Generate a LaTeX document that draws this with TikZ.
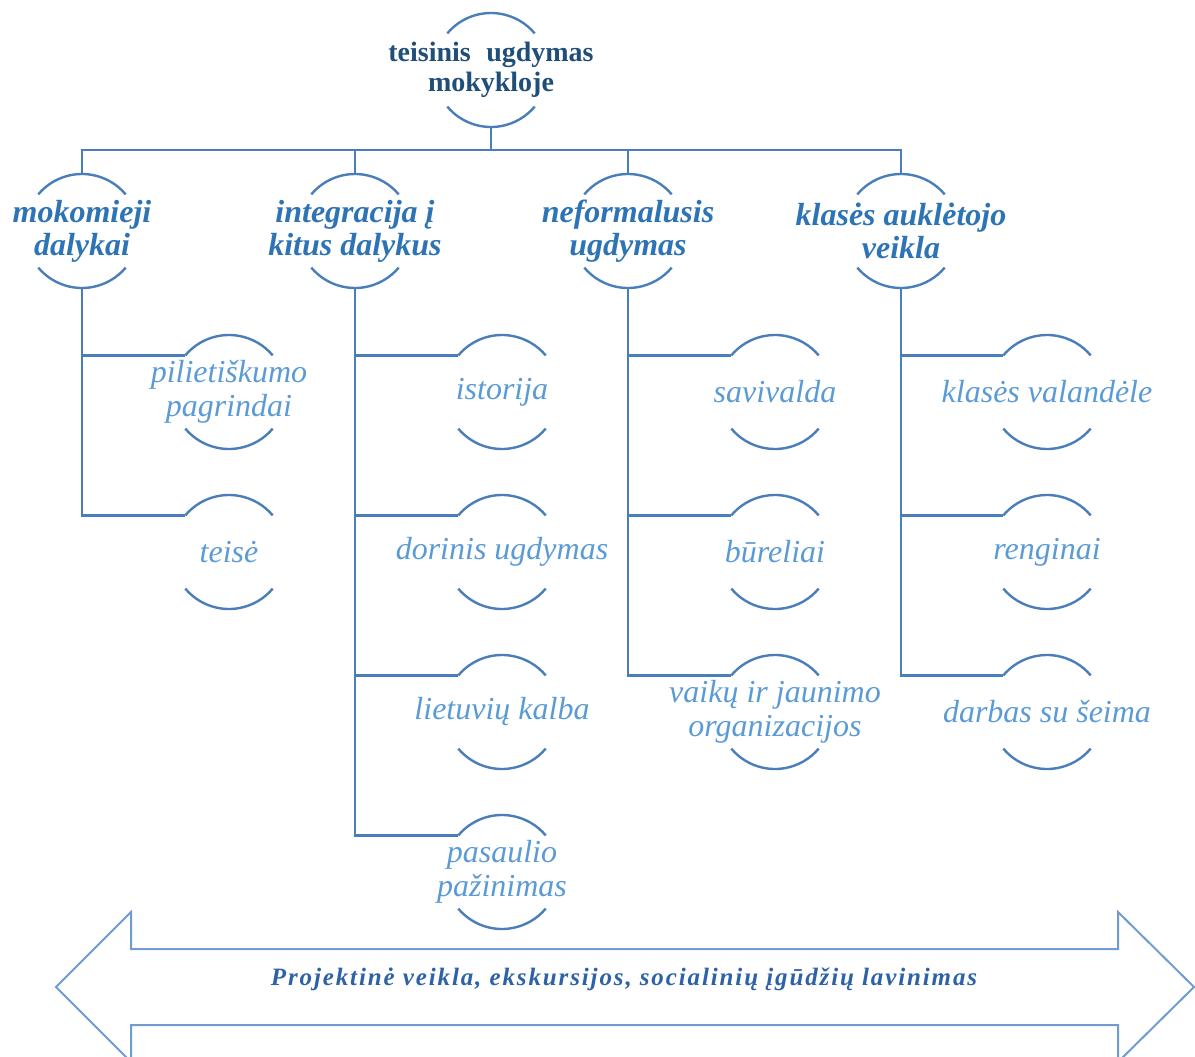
\documentclass[tikz,border=0pt]{standalone}
\usepackage{fontspec}
\setmainfont{Liberation Serif}
\definecolor{linec}{RGB}{74,126,187}
\definecolor{arrowc}{RGB}{112,156,210}
\definecolor{topc}{RGB}{31,78,121}
\definecolor{lvtwoc}{RGB}{46,116,181}
\definecolor{lvthreec}{RGB}{91,155,213}
\definecolor{bandc}{RGB}{46,98,168}
\begin{document}
\begin{tikzpicture}[x=1pt,y=1pt,
  conn/.style={draw=linec, line width=2.6pt},
  arcst/.style={draw=linec, line width=2.4pt},
  bubble/.style={circle, minimum size=114pt, inner sep=0pt, outer sep=0pt},
  topt/.style={font=\fontsize{28}{30}\selectfont\bfseries, text=topc, align=center},
  lvtwo/.style={font=\fontsize{32}{33}\selectfont\bfseries\itshape, text=lvtwoc, align=center},
  lvthree/.style={font=\fontsize{32}{34}\selectfont\itshape, text=lvthreec, align=center},
  bandt/.style={font=\fontsize{25}{28}\selectfont\bfseries\itshape\addfontfeatures{LetterSpace=7.5}, text=bandc},
  bandst/.style={draw=arrowc, line width=2pt, line join=miter}
]
\useasboundingbox (0,0) rectangle (1195,-1057);
% top
\node[bubble, label={[topt]center:teisinis\hspace{0.3em} ugdymas\\mokykloje}] (top) at (491,-70) {};
% level 2
\node[bubble, label={[lvtwo]center:mokomieji\\dalykai}] (m1) at (82,-231) {};
\node[bubble, label={[lvtwo]center:integracija į\\kitus dalykus}] (m2) at (355,-231) {};
\node[bubble, label={[lvtwo]center:neformalusis\\ugdymas}] (m3) at (628,-231) {};
\node[bubble, label={[lvtwo]center:klasės auklėtojo\\veikla}] (m4) at (901,-231) {};
% level 3
\node[bubble, label={[lvthree]center:pilietiškumo\\pagrindai}] (c11) at (229,-392) {};
\node[bubble, label={[lvthree]center:teisė}] (c12) at (229,-552) {};
\node[bubble, label={[lvthree]center:istorija}] (c21) at (502,-392) {};
\node[bubble, label={[lvthree]center:dorinis ugdymas}] (c22) at (502,-552) {};
\node[bubble, label={[lvthree]center:lietuvių kalba}] (c23) at (502,-712) {};
\node[bubble, label={[lvthree]center:pasaulio\\pažinimas}] (c24) at (502,-872) {};
\node[bubble, label={[lvthree]center:savivalda}] (c31) at (775,-392) {};
\node[bubble, label={[lvthree]center:būreliai}] (c32) at (775,-552) {};
\node[bubble, label={[lvthree]center:vaikų ir jaunimo\\organizacijos}] (c33) at (775,-712) {};
\node[bubble, label={[lvthree]center:klasės valandėle}] (c41) at (1047,-392) {};
\node[bubble, label={[lvthree]center:renginai}] (c42) at (1047,-552) {};
\node[bubble, label={[lvthree]center:darbas su šeima}] (c43) at (1047,-712) {};
% arcs
\foreach \n in {top,m1,m2,m3,m4,c11,c12,c21,c22,c23,c24,c31,c32,c33,c41,c42,c43}{
  \draw[arcst] (\n.140) arc[start angle=140, end angle=40, radius=57pt];
  \draw[arcst] (\n.220) arc[start angle=220, end angle=320, radius=57pt];
}
% connectors
\coordinate (bus) at (491,-150);
\draw[conn] (top.south) -- (bus);
\draw[conn] (m1.north) |- (bus) -| (m4.north);
\draw[conn] (m2.north) -- (m2.north |- bus);
\draw[conn] (m3.north) -- (m3.north |- bus);
\foreach \p/\c in {m1/c11,m1/c12,m2/c21,m2/c22,m2/c23,m2/c24,m3/c31,m3/c32,m3/c33,m4/c41,m4/c42,m4/c43}{
  \draw[conn] (\p.south) |- (\c.140);
}
% band arrow
\draw[bandst] (56,-987) -- (131,-912) -- (131,-949) -- (1118,-949) -- (1118,-912) -- (1194,-987)
  -- (1118,-1062) -- (1118,-1025) -- (131,-1025) -- (131,-1062) -- cycle;
\node[bandt] (band) at (624,-979) {Projektinė veikla, ekskursijos, socialinių įgūdžių lavinimas};
\end{tikzpicture}
\end{document}
